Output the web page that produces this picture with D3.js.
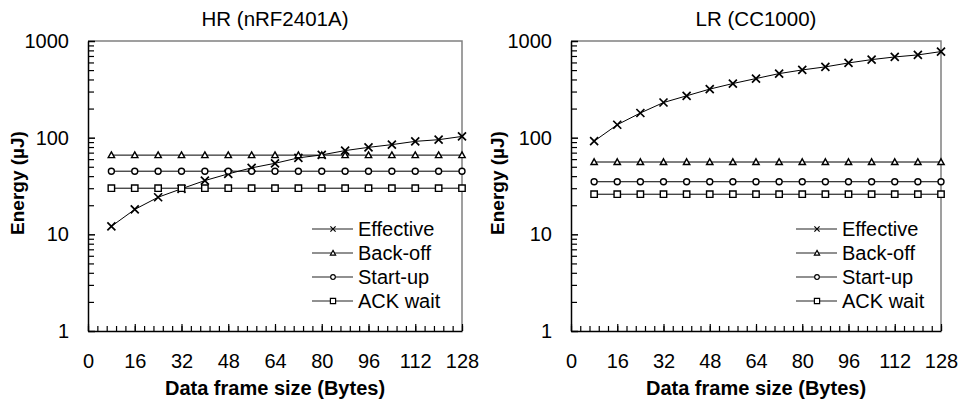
<!DOCTYPE html>
<html>
<head>
<meta charset="utf-8">
<script src="https://cdn.jsdelivr.net/npm/d3@7"></script>
<style>
  body { margin: 0; background: #fff; }
  svg { display: block; font-family: "Liberation Sans", Arial, sans-serif; }
</style>
</head>
<body>
<svg id="chart" width="964" height="401"></svg>
<script>
// data
const frameSizes = [8, 16, 24, 32, 40, 48, 56, 64, 72, 80, 88, 96, 104, 112, 120, 128];

const hrEffective = [12.1, 18.1, 24.2, 29.6, 36, 42.2, 48.7, 54.3, 61.8, 66.3, 73.5, 79.4, 84.7, 91.6, 95.3, 103];
const hrBackoff   = [66, 66, 66, 66, 66, 66, 66, 66, 66, 66, 66, 66, 66, 66, 66, 66];
const hrStartup   = [45, 45, 45, 45, 45, 45, 45, 45, 45, 45, 45, 45, 45, 45, 45, 45];
const hrAckWait   = [30, 30, 30, 30, 30, 30, 30, 30, 30, 30, 30, 30, 30, 30, 30, 30];

const lrEffective = [92, 136, 180, 231, 271, 318, 363, 409, 460, 502, 540, 593, 642, 684, 718, 777];
const lrBackoff   = [56, 56, 56, 56, 56, 56, 56, 56, 56, 56, 56, 56, 56, 56, 56, 56];
const lrStartup   = [35, 35, 35, 35, 35, 35, 35, 35, 35, 35, 35, 35, 35, 35, 35, 35];
const lrAckWait   = [26, 26, 26, 26, 26, 26, 26, 26, 26, 26, 26, 26, 26, 26, 26, 26];

const seriesNames = ['Effective', 'Back-off', 'Start-up', 'ACK wait'];
const seriesMarkers = ['x', 'triangle', 'circle', 'square'];

const xTicks = [0, 16, 32, 48, 64, 80, 96, 112, 128];
const xMinorTicks = d3.range(0, 41).map(i => +(i * 3.2).toFixed(1));
const yTicks = [1, 10, 100, 1000];
const yMinorTicks = [2, 3, 4, 5, 6, 7, 8, 9, 20, 30, 40, 50, 60, 70, 80, 90, 200, 300, 400, 500, 600, 700, 800, 900];

function markerPath(type, s) {
    // s = half size
    if (type === 'x') return `M${-s},${-s}L${s},${s}M${-s},${s}L${s},${-s}`;
    if (type === 'triangle') return `M0,${-s}L${s},${s * 0.8}L${-s},${s * 0.8}Z`;
    if (type === 'square') return `M${-s},${-s}H${s}V${s}H${-s}Z`;
    return d3.arc()({ innerRadius: 0, outerRadius: s, startAngle: 0, endAngle: 2 * Math.PI });
}

function drawPanel(svg, p) {
    const x = d3.scaleLinear().domain([0, 128]).range([p.left, p.right]);
    const y = d3.scaleLog().domain([1, 1000]).range([p.bottom, p.top]);
    const g = svg.append('g');

    // title
    g.append('text')
        .attr('x', (p.left + p.right) / 2)
        .attr('y', 26)
        .attr('text-anchor', 'middle')
        .style('font-size', '20.5px')
        .text(p.title);

    // top + right border (gray)
    g.append('path')
        .attr('d', `M${p.left},${p.top}H${p.right}V${p.bottom}`)
        .attr('fill', 'none')
        .attr('stroke', '#808080')
        .attr('stroke-width', 1.5);

    // minor ticks
    g.append('g')
        .attr('transform', `translate(0,${p.bottom})`)
        .call(d3.axisBottom(x).tickValues(xMinorTicks).tickSize(-5).tickFormat(''))
        .call(a => a.select('.domain').remove())
        .selectAll('line').attr('stroke-width', 1.2);

    g.append('g')
        .attr('transform', `translate(${p.left},0)`)
        .call(d3.axisLeft(y).tickValues(yMinorTicks).tickSize(-6).tickFormat(''))
        .call(a => a.select('.domain').remove())
        .selectAll('line').attr('stroke-width', 1.2);

    // major x axis
    const xa = g.append('g')
        .attr('transform', `translate(0,${p.bottom})`)
        .call(d3.axisBottom(x).tickValues(xTicks).tickSizeInner(-7).tickSizeOuter(0).tickPadding(23));
    xa.select('.domain').attr('stroke-width', 1.5);
    xa.selectAll('line').attr('stroke-width', 1.2);
    xa.selectAll('text').style('font-size', '20px').attr('fill', '#000');

    // major y axis
    const ya = g.append('g')
        .attr('transform', `translate(${p.left},0)`)
        .call(d3.axisLeft(y).tickValues(yTicks).tickFormat(d3.format('d')).tickSizeInner(-7).tickSizeOuter(0).tickPadding(19));
    ya.select('.domain').attr('stroke-width', 1.5);
    ya.selectAll('line').attr('stroke-width', 1.5);
    ya.selectAll('text').style('font-size', '20px').attr('fill', '#000');

    // axis titles
    g.append('text')
        .attr('x', (p.left + p.right) / 2)
        .attr('y', 395)
        .attr('text-anchor', 'middle')
        .style('font-size', '20px')
        .style('font-weight', 'bold')
        .text('Data frame size (Bytes)');

    g.append('text')
        .attr('transform', `translate(${p.yTitleX},${(p.top + p.bottom) / 2 - 3}) rotate(-90)`)
        .attr('text-anchor', 'middle')
        .attr('dy', '0.35em')
        .style('font-size', '19px')
        .style('font-weight', 'bold')
        .text('Energy (µJ)');

    // series
    const line = d3.line().x(d => x(d[0])).y(d => y(d[1]));
    p.series.forEach((vals, i) => {
        const pts = frameSizes.map((f, j) => [f, vals[j]]);
        g.append('path')
            .datum(pts)
            .attr('d', line)
            .attr('fill', 'none')
            .attr('stroke', '#000')
            .attr('stroke-width', 1);
        const m = seriesMarkers[i];
        g.selectAll(null)
            .data(pts)
            .enter()
            .append('path')
            .attr('transform', d => `translate(${x(d[0])},${y(d[1])})`)
            .attr('d', markerPath(m, m === 'x' ? 4 : m === 'circle' ? 3 : 3.2))
            .attr('fill', '#fff')
            .attr('stroke', '#000')
            .attr('stroke-width', m === 'x' ? 1.7 : 1.4);
    });

    // legend
    seriesNames.forEach((name, i) => {
        const ly = 229 + i * 24;
        const lg = g.append('g').attr('transform', `translate(${p.legendX},${ly})`);
        lg.append('line')
            .attr('x1', 0).attr('x2', 41)
            .attr('stroke', '#222').attr('stroke-width', 1.2);
        lg.append('path')
            .attr('transform', 'translate(21,0)')
            .attr('d', markerPath(seriesMarkers[i], seriesMarkers[i] === 'circle' ? 2.3 : 2.6))
            .attr('fill', '#fff')
            .attr('stroke', '#000')
            .attr('stroke-width', 1.2);
        lg.append('text')
            .attr('x', 46)
            .attr('dy', '0.35em')
            .style('font-size', '20px')
            .text(name);
    });
}

const svg = d3.select('#chart');

drawPanel(svg, {
    title: 'HR (nRF2401A)',
    left: 88, right: 462, top: 41, bottom: 331,
    yTitleX: 17, legendX: 312,
    series: [hrEffective, hrBackoff, hrStartup, hrAckWait]
});

drawPanel(svg, {
    title: 'LR (CC1000)',
    left: 571, right: 941, top: 41, bottom: 331,
    yTitleX: 497, legendX: 796,
    series: [lrEffective, lrBackoff, lrStartup, lrAckWait]
});
</script>
</body>
</html>
